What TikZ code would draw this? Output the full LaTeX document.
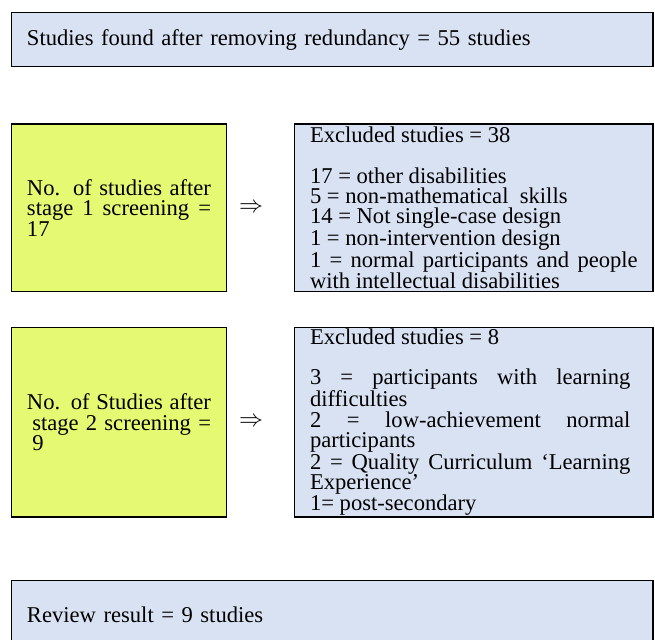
\RequirePackage{fix-cm}
\documentclass[tikz,border=0pt]{standalone}
\usepackage{fontspec}
\setmainfont{Liberation Serif}
\usetikzlibrary{positioning}
\definecolor{boxblue}{HTML}{D9E2F3}
\definecolor{boxyellow}{HTML}{E6F972}
\setlength{\parindent}{0pt}
\setlength{\lineskiplimit}{-20pt}

\begin{document}
\begin{tikzpicture}[x=1pt,y=-1pt,
    box/.style={draw,line width=1.3pt,inner xsep=15.3pt,inner ysep=0pt,
        font=\fontsize{22.6}{20.4}\selectfont,align=justify},
    bluebox/.style={box,fill=boxblue},
    stagebox/.style={box,fill=boxyellow,minimum width=214.6pt,text width=184pt},
    exclbox/.style={bluebox,minimum width=358.3pt,text width=327.7pt},
    widebox/.style={bluebox,minimum width=641.3pt,text width=610.7pt,align=left},
    implies/.style={inner sep=0pt,font=\fontsize{24}{24}\selectfont}]
    \useasboundingbox (0,0) rectangle (655,639);
    \clip (0,0) rectangle (655,639);
    % first and last box
    \node[widebox,minimum height=54pt] (found) at (332.35,39.7)
        {Studies found after removing redundancy = 55 studies};
    \node[widebox,minimum height=67.3pt] (result) at (332.35,614.35)
        {Review result = 9 studies};
    % stage 1
    \node[stagebox,minimum height=167.5pt] (stage1) at (119,207.75)
        {No. of studies after\linebreak stage 1 screening =\linebreak 17};
    \node[implies,right=12pt of stage1] (imp1) {$\Rightarrow$};
    \node[exclbox,minimum height=167.5pt] (excl1) at (473.85,207.75)
        {Excluded studies = 38\par\mbox{}\par
         17 = other disabilities\par
         5 = non-mathematical\ \ skills\par
         14 = Not single-case design\par
         1 = non-intervention design\par
         1 = normal participants and people\linebreak with intellectual disabilities};
    % stage 2
    \node[stagebox,minimum height=189.7pt] (stage2) at (119,422.15)
        {No. of Studies after\linebreak \hspace*{5.3pt}stage 2 screening =\linebreak \hspace*{5.3pt}9};
    \node[implies,right=12pt of stage2] (imp2) {$\Rightarrow$};
    \node[exclbox,minimum height=189.7pt] (excl2) at (473.85,422.15)
        {\rightskip=7.3pt Excluded studies = 8\par\mbox{}\par
         3 = participants with learning\linebreak difficulties\par
         2 = low-achievement normal\linebreak participants\par
         2 = Quality Curriculum ‘Learning\linebreak Experience’\par
         1= post-secondary};
\end{tikzpicture}
\end{document}
